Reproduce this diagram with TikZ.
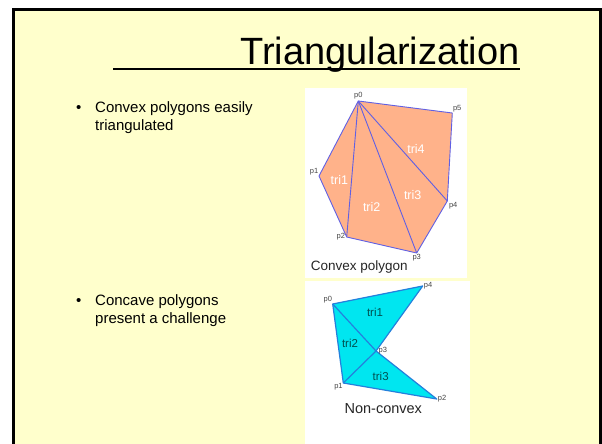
\documentclass[tikz,border=0pt]{standalone}
\usepackage{fontspec}
\setmainfont{Liberation Sans}
\usetikzlibrary{positioning}

\definecolor{slideyellow}{RGB}{255,255,204}
\definecolor{peach}{RGB}{255,178,138}
\definecolor{peachedge}{RGB}{96,96,228}
\definecolor{aqua}{RGB}{0,230,240}
\definecolor{aquaedge}{RGB}{36,128,220}
\definecolor{labelgray}{RGB}{70,70,70}
\definecolor{tealtext}{RGB}{0,80,80}

\begin{document}
\begin{tikzpicture}[
    x=1pt, y=-1pt,
    plabel/.style={
        font=\fontsize{7.5}{8}\selectfont,
        text=labelgray,
        inner sep=0.5pt
    },
    convextri/.style={
        font=\fontsize{12.5}{13}\selectfont,
        text=white,
        inner sep=0pt
    },
    concavetri/.style={
        font=\fontsize{11.5}{12}\selectfont,
        text=tealtext,
        inner sep=0pt
    },
    figcaption/.style={
        font=\fontsize{13.5}{14}\selectfont,
        text=black!85,
        inner sep=0pt
    },
    bullettext/.style={
        font=\fontsize{15}{18}\selectfont,
        align=left,
        anchor=base west,
        inner sep=0pt
    }
]

\useasboundingbox (0,0) rectangle (602,444);
\clip (0,0) rectangle (602,444);

% slide background and frame
\fill[white] (0,0) rectangle (602,444);
\fill[slideyellow] (13.5,9.5) rectangle (600.5,460);
\draw[line width=3pt] (13.5,460) -- (13.5,9.5) -- (600.5,9.5) -- (600.5,460);

% title
\node[font=\fontsize{38}{40}\selectfont, anchor=base west, inner sep=0pt] (title) at (240,64) {Triangularization};
\coordinate (ulstart) at (113,69);
\draw[line width=1.1pt] (ulstart) -- (ulstart -| title.east);

% bullets (base anchor sits on the last line)
\node[bullettext] (convex) at (95,130) {Convex polygons easily\\triangulated};
\node[bullettext] (dot1) at (76,112) {\textbullet};
\node[bullettext] (concave) at (95,323) {Concave polygons\\present a challenge};
\node[bullettext] (dot2) at (76,305) {\textbullet};

% picture panels
\fill[white] (305,88) rectangle (467,278);
\fill[white] (305,281) rectangle (470,444);

% convex polygon
\coordinate (c0) at (358.3,101);
\coordinate (c1) at (319,176);
\coordinate (c2) at (346.7,237);
\coordinate (c3) at (416.7,253);
\coordinate (c4) at (447.3,201);
\coordinate (c5) at (452.3,113);

\fill[peach] (c0) -- (c1) -- (c2) -- (c3) -- (c4) -- (c5) -- cycle;
\draw[peachedge, line width=0.9pt, line join=round] (c0) -- (c1) -- (c2) -- (c3) -- (c4) -- (c5) -- cycle;
\draw[peachedge, line width=0.9pt] (c0) -- (c2);
\draw[peachedge, line width=0.9pt] (c0) -- (c3);
\draw[peachedge, line width=0.9pt] (c0) -- (c4);

\node[plabel, above=1pt of c0] (lc0) {p0};
\node[plabel, above left=0pt and 0pt of c1] (lc1) {p1};
\node[plabel, left=1pt of c2] (lc2) {p2};
\node[plabel, below=0.5pt of c3] (lc3) {p3};
\node[plabel, below right=1pt and 1pt of c4] (lc4) {p4};
\node[plabel, above right=0pt and 0pt of c5] (lc5) {p5};

\node[convextri] (tri1) at (339.3,180) {tri1};
\node[convextri] (tri2) at (371.7,207) {tri2};
\node[convextri] (tri3) at (412.7,195) {tri3};
\node[convextri] (tri4) at (416,149) {tri4};

\node[figcaption, anchor=base west] (convexcap) at (310.7,270) {Convex polygon};

% non-convex polygon
\coordinate (n0) at (332.7,304);
\coordinate (n1) at (343.3,383);
\coordinate (n2) at (436.7,399);
\coordinate (n3) at (376,351);
\coordinate (n4) at (422.7,286);

\fill[aqua] (n0) -- (n4) -- (n3) -- (n2) -- (n1) -- cycle;
\draw[aquaedge, line width=1.2pt, line join=round] (n0) -- (n4) -- (n3) -- (n2) -- (n1) -- cycle;
\draw[aquaedge, line width=1.2pt] (n0) -- (n3);
\draw[aquaedge, line width=1.2pt] (n1) -- (n3);

\node[plabel, above left=0pt and 0pt of n0] (ln0) {p0};
\node[plabel, below left=0pt and 0pt of n1] (ln1) {p1};
\node[plabel, right=0.5pt of n2] (ln2) {p2};
\node[plabel, right=2pt of n3] (ln3) {p3};
\node[plabel, right=0.5pt of n4] (ln4) {p4};

\node[concavetri] (ntri1) at (375,312) {tri1};
\node[concavetri] (ntri2) at (350,343) {tri2};
\node[concavetri] (ntri3) at (380.7,376) {tri3};

\node[figcaption, font=\fontsize{14.5}{15}\selectfont] (concavecap) at (383.3,409) {Non-convex};

\end{tikzpicture}
\end{document}
